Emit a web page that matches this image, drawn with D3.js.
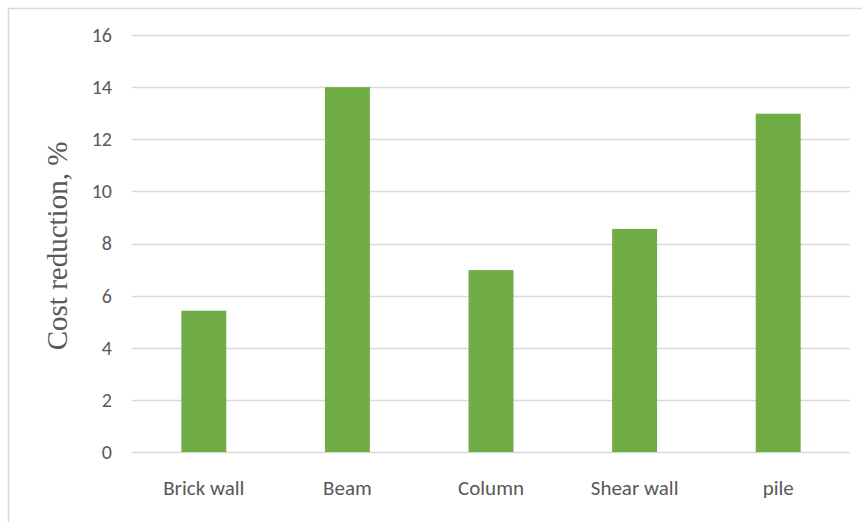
<!DOCTYPE html>
<html>
<head>
<meta charset="utf-8">
<script src="https://cdn.jsdelivr.net/npm/d3@7"></script>
<style>
  body { margin: 0; background: #fff; }
  svg { display: block; }
</style>
</head>
<body>
<div id="vis"></div>
<script>
var width  = 862;
var height = 522;

// data
var categories = ["Brick wall", "Beam", "Column", "Shear wall", "pile"];
var values     = [5.42, 14, 6.98, 8.56, 12.98];
var yTicks     = [0, 2, 4, 6, 8, 10, 12, 14, 16];

var margin = { left: 132, right: 12, top: 35, bottom: 70 };

var x = d3.scaleBand()
  .domain(categories)
  .range([margin.left, 850])
  .paddingInner(0.687)
  .paddingOuter(0.3435);

var y = d3.scaleLinear()
  .domain([0, 16])
  .range([452, 35]);

var svg = d3.select("#vis").append("svg")
  .attr("width", width)
  .attr("height", height);

// chart border (runs off the right and bottom of the picture)
svg.append("rect")
  .attr("x", 8.5).attr("y", 8.5)
  .attr("width", 870).attr("height", 530)
  .attr("fill", "#fff")
  .attr("stroke", "#d9d9d9")
  .attr("stroke-width", 1.5);

// gridlines
svg.append("g")
  .selectAll("line")
  .data(yTicks)
  .enter().append("line")
  .attr("x1", margin.left)
  .attr("x2", 850)
  .attr("y1", function(d) { return Math.round(y(d)) + 0.5; })
  .attr("y2", function(d) { return Math.round(y(d)) + 0.5; })
  .attr("stroke", "#d9d9d9")
  .attr("stroke-width", 1.5);

// bars
svg.append("g")
  .selectAll("rect")
  .data(values)
  .enter().append("rect")
  .attr("x", function(d, i) { return x(categories[i]); })
  .attr("width", x.bandwidth())
  .attr("y", function(d) { return y(d); })
  .attr("height", function(d) { return y(0) - y(d); })
  .attr("fill", "#70ad47");

// y axis labels
var yAxis = d3.axisLeft(y).tickValues(yTicks).tickSize(0).tickPadding(0);
var gy = svg.append("g")
  .attr("transform", "translate(112,0)")
  .call(yAxis);
gy.select(".domain").remove();
gy.selectAll("text")
  .attr("fill", "#595959")
  .style("font-family", "Carlito, Lato, 'Open Sans', sans-serif")
  .style("font-size", "20px");

// x axis labels
var xAxis = d3.axisBottom(x).tickSize(0).tickPadding(0);
var gx = svg.append("g")
  .attr("transform", "translate(0,480)")
  .call(xAxis);
gx.select(".domain").remove();
gx.selectAll("text")
  .attr("fill", "#595959")
  .style("font-family", "Carlito, Lato, 'Open Sans', sans-serif")
  .style("font-size", "21px");

// y title
svg.append("text")
  .attr("transform", "translate(67,246) rotate(-90)")
  .attr("text-anchor", "middle")
  .attr("fill", "#595959")
  .style("font-family", "'Liberation Serif', 'Times New Roman', serif")
  .style("font-size", "29px")
  .text("Cost reduction, %");
</script>
</body>
</html>
